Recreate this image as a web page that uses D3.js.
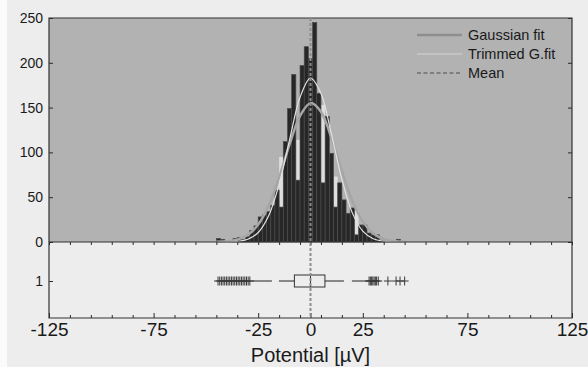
<!DOCTYPE html>
<html>
<head>
<meta charset="utf-8">
<script src="https://cdn.jsdelivr.net/npm/d3@7"></script>
<style>
  body { margin: 0; background: #ededed; }
  svg { display: block; font-family: "Liberation Sans", Arial, sans-serif; }
</style>
</head>
<body>
<div id="chart"></div>
<script>
// ... histogram bins (centre, µV) and counts
const binCenters = [-44, -42, -40, -38, -36, -34, -32, -30, -28, -26, -24, -22, -20, -18, -16, -14, -12, -10, -8, -6, -4, -2,
  0, 2, 4, 6, 8, 10, 12, 14, 16, 18, 20, 22, 24, 26, 28, 30, 32, 34, 36, 38, 40, 42, 44];
const counts = [4, 3, 0, 1, 4, 5, 3, 6, 13, 18, 28, 30, 34, 41, 58, 39, 112, 149, 187, 69, 197, 218,
  205, 245, 166, 66, 140, 99, 39, 66, 47, 32, 38, 8, 19, 19, 10, 8, 8, 2, 2, 1, 1, 3, 0];
// light bars showing behind a few low bins
const lightCounts = [0, 0, 0, 0, 0, 0, 0, 0, 0, 0, 0, 0, 0, 0, 0, 95, 0, 0, 0, 114, 0, 0,
  0, 0, 0, 153, 0, 0, 73, 0, 0, 0, 0, 35, 0, 0, 0, 0, 0, 0, 0, 0, 0, 0, 0];
const binWidth = 2;

// ... fitted curves
const fitX = [-45, -40, -35, -30, -25, -20, -15, -10, -5, 0, 5, 10, 15, 20, 25, 30, 35, 40, 45];
const gaussFit = [0.2, 0.8, 2.7, 7.9, 19.4, 40.4, 71.9, 108.9, 140.7, 155, 145.3, 116.1, 79.1, 45.9, 22.7, 9.6, 3.4, 1.1, 0.3];
const trimmedFit = [0, 0.1, 0.7, 3.1, 10.6, 29.3, 64.5, 114.1, 161.5, 183, 165.8, 120.4, 69.9, 32.5, 12.1, 3.6, 0.9, 0.1, 0];
const meanValue = 0;

// ... box plot
const boxStats = { lowerWhisker: -28, q1: -7.7, median: 0, q3: 6.9, upperWhisker: 27.5 };
const outliers = [-44.2, -43.4, -42.6, -41.8, -41, -40.2, -39.4, -38.6, -37.8, -37, -36.2, -35.4, -34.6, -33.8, -33, -32.2, -31.4, -30.6, -29.8, -29,
  28, 28.6, 29.2, 29.8, 30.4, 31, 31.6, 32.4, 37, 40.9, 42.8, 45];

// ... axis ticks
const xLabelTicks = [-125, -75, -25, 0, 25, 75, 125];
const xMinorTicks = [-115, -105, -95, -85, -65, -55, -45, -35, -15, -5, 5, 15, 35, 45, 55, 65, 85, 95, 105, 115];
const yTicks = [0, 50, 100, 150, 200, 250];
const legendItems = ['Gaussian fit', 'Trimmed G.fit', 'Mean'];

const W = 588, H = 367;
const margin = { left: 49, right: 572, top: 18, histBottom: 242, bottom: 318 };

const svg = d3.select('#chart').append('svg')
  .attr('width', W)
  .attr('height', H);

svg.append('rect').attr('width', W).attr('height', H).attr('fill', '#ededed');
svg.append('rect').attr('width', 7).attr('height', H).attr('fill', '#fbfbfb');

const x = d3.scaleLinear().domain([-125, 125]).range([margin.left, margin.right]);
const y = d3.scaleLinear().domain([0, 250]).range([margin.histBottom, margin.top]);
const yBox = d3.scalePoint().domain([1]).range([281, 281]);

// ... histogram panel
svg.append('rect')
  .attr('x', margin.left).attr('y', margin.top)
  .attr('width', margin.right - margin.left).attr('height', margin.histBottom - margin.top)
  .attr('fill', '#b2b2b2');

const bars = svg.append('g');
bars.selectAll('rect.light')
  .data(binCenters.map((c, i) => ({ c: c, v: lightCounts[i] })).filter(d => d.v > 0))
  .enter().append('rect')
  .attr('class', 'light')
  .attr('x', d => x(d.c - binWidth / 2))
  .attr('width', d => x(d.c + binWidth / 2) - x(d.c - binWidth / 2))
  .attr('y', d => y(d.v))
  .attr('height', d => y(0) - y(d.v))
  .attr('fill', '#dedede');

bars.selectAll('rect.bar')
  .data(binCenters.map((c, i) => ({ c: c, v: counts[i] })))
  .enter().append('rect')
  .attr('class', 'bar')
  .attr('x', d => x(d.c - binWidth / 2))
  .attr('width', d => x(d.c + binWidth / 2) - x(d.c - binWidth / 2))
  .attr('y', d => y(d.v))
  .attr('height', d => y(0) - y(d.v))
  .attr('fill', '#272727')
  .attr('stroke', '#4c4c4c')
  .attr('stroke-width', 0.7);

const line = d3.line()
  .x(d => x(d[0]))
  .y(d => y(d[1]))
  .curve(d3.curveCatmullRom);

svg.append('path')
  .datum(fitX.map((v, i) => [v, gaussFit[i]]))
  .attr('d', line)
  .attr('fill', 'none')
  .attr('stroke', '#a6a6a6')
  .attr('stroke-width', 2.5);

svg.append('path')
  .datum(fitX.map((v, i) => [v, trimmedFit[i]]))
  .attr('d', line)
  .attr('fill', 'none')
  .attr('stroke', '#e2e2e2')
  .attr('stroke-width', 1.2);

// ... histogram axes
svg.append('g')
  .attr('transform', 'translate(' + margin.left + ',0)')
  .call(d3.axisLeft(y).tickValues(yTicks).tickSizeInner(-4).tickSizeOuter(0).tickPadding(6))
  .call(g => g.select('.domain').remove());

svg.append('g')
  .attr('transform', 'translate(' + margin.right + ',0)')
  .call(d3.axisRight(y).tickValues(yTicks).tickSizeInner(-4).tickSizeOuter(0).tickFormat(''))
  .call(g => g.select('.domain').remove());

// ... box plot panel
const bx = svg.append('g');
const rowY = yBox(1);

bx.append('line')
  .attr('x1', x(boxStats.lowerWhisker)).attr('x2', x(boxStats.q1))
  .attr('y1', rowY).attr('y2', rowY)
  .attr('stroke', '#222').attr('stroke-dasharray', '20,7');
bx.append('line')
  .attr('x1', x(boxStats.q3)).attr('x2', x(boxStats.upperWhisker))
  .attr('y1', rowY).attr('y2', rowY)
  .attr('stroke', '#222').attr('stroke-dasharray', '19,8');

bx.append('rect')
  .attr('x', x(boxStats.q1)).attr('y', rowY - 6)
  .attr('width', x(boxStats.q3) - x(boxStats.q1)).attr('height', 12)
  .attr('fill', 'none').attr('stroke', '#333');
bx.append('line')
  .attr('x1', x(boxStats.median)).attr('x2', x(boxStats.median))
  .attr('y1', rowY - 6).attr('y2', rowY + 6)
  .attr('stroke', '#333');

bx.selectAll('path.out')
  .data(outliers)
  .enter().append('path')
  .attr('class', 'out')
  .attr('d', d => 'M' + (x(d) - 4) + ',' + rowY + 'H' + (x(d) + 4) + 'M' + x(d) + ',' + (rowY - 4.5) + 'V' + (rowY + 4.5))
  .attr('stroke', '#3a3a3a')
  .attr('stroke-width', 1);

svg.append('g')
  .attr('transform', 'translate(' + margin.left + ',0)')
  .call(d3.axisLeft(yBox).tickSizeInner(-4).tickSizeOuter(0).tickPadding(6))
  .call(g => g.select('.domain').remove());

// ... x axes (inside ticks, MATLAB style)
svg.append('g')
  .attr('transform', 'translate(0,' + margin.bottom + ')')
  .call(d3.axisBottom(x).tickValues(xMinorTicks).tickSizeInner(-3).tickSizeOuter(0).tickFormat(''))
  .call(g => g.select('.domain').remove());

const xAxis = svg.append('g')
  .attr('transform', 'translate(0,' + margin.bottom + ')')
  .call(d3.axisBottom(x).tickValues(xLabelTicks).tickSizeInner(-5).tickSizeOuter(0).tickPadding(5)
    .tickFormat(d => String(d)));
xAxis.select('.domain').remove();
xAxis.selectAll('text').attr('font-size', 19).attr('fill', '#1a1a1a');

svg.append('g')
  .attr('transform', 'translate(0,' + margin.histBottom + ')')
  .call(d3.axisTop(x).tickValues(xMinorTicks.concat(xLabelTicks)).tickSizeInner(-3).tickSizeOuter(0).tickFormat(''))
  .call(g => g.select('.domain').remove());

svg.selectAll('.tick line').attr('stroke', '#2a2a2a');
svg.selectAll('.tick text').filter(function () { return !this.getAttribute('font-size'); })
  .attr('font-size', 14).attr('fill', '#1a1a1a');
svg.selectAll('.tick text').attr('font-family', '"Liberation Sans", Arial, sans-serif');

// ... frames
svg.append('path')
  .attr('d', 'M' + margin.left + ',' + margin.top + 'H' + margin.right + 'V' + margin.bottom + 'H' + margin.left + 'Z')
  .attr('fill', 'none').attr('stroke', '#333').attr('stroke-width', 1.2);
svg.append('line')
  .attr('x1', margin.left).attr('x2', margin.right).attr('y1', margin.histBottom).attr('y2', margin.histBottom)
  .attr('stroke', '#333').attr('stroke-width', 1.2);

// ... mean line across both panels
svg.append('line')
  .attr('x1', x(meanValue)).attr('x2', x(meanValue))
  .attr('y1', margin.top).attr('y2', margin.bottom)
  .attr('stroke', '#8c8c8c').attr('stroke-width', 2).attr('stroke-dasharray', '3,2');

// ... legend
const legend = svg.append('g').attr('transform', 'translate(417,35)');
const styles = [
  { stroke: '#8e8e8e', width: 2.5, dash: null },
  { stroke: '#d4d4d4', width: 1.2, dash: null },
  { stroke: '#4a4a4a', width: 1.2, dash: '4,2.5' }
];
legendItems.forEach((name, i) => {
  const g = legend.append('g').attr('transform', 'translate(0,' + (i * 19) + ')');
  g.append('line').attr('x1', 0).attr('x2', 45).attr('y1', 0).attr('y2', 0)
    .attr('stroke', styles[i].stroke).attr('stroke-width', styles[i].width)
    .attr('stroke-dasharray', styles[i].dash);
  g.append('text').attr('x', 51).attr('y', 5)
    .attr('font-size', 14.5).attr('fill', '#1a1a1a').text(name);
});

// ... x label
svg.append('text')
  .attr('x', x(0)).attr('y', 362)
  .attr('text-anchor', 'middle')
  .attr('font-size', 20).attr('fill', '#1a1a1a')
  .text('Potential [µV]');
</script>
</body>
</html>
